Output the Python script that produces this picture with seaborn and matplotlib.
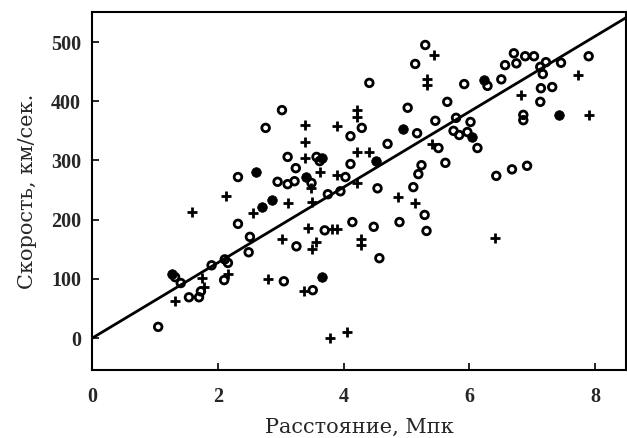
import matplotlib
matplotlib.use("Agg")
import matplotlib.pyplot as plt
import seaborn as sns
import numpy as np
import pandas as pd

# ---- data (distance, Mpc ; velocity, km/s) ----
open_x = [1.05, 1.32, 1.41, 1.54, 1.70, 1.73, 1.90, 2.10, 2.11, 2.16, 2.49, 2.51, 2.32, 2.32,
          2.76, 3.02, 2.95, 3.11, 3.22, 3.49, 3.11, 3.24, 3.57, 3.62, 4.11, 4.29, 4.11, 4.03,
          4.41, 5.30, 5.14, 5.02, 5.65, 5.46, 5.17, 4.70, 5.51, 5.62, 5.24, 5.19, 5.11, 4.54,
          3.75, 3.95, 5.29, 5.32, 4.89, 4.48, 4.14, 3.70, 3.25, 4.57, 3.05, 3.51, 6.43, 6.68,
          6.92, 6.71, 6.89, 7.03, 6.57, 6.75, 7.90, 7.13, 7.22, 7.46, 7.17, 5.92, 6.29, 6.51,
          7.14, 7.32, 7.13, 6.86, 6.86, 5.79, 6.02, 5.84, 5.97, 6.13, 5.75]
open_y = [19, 103, 93, 69, 69, 79, 123, 98, 133, 127, 145, 171, 193, 272,
          355, 385, 264, 260, 265, 262, 306, 287, 306, 299, 341, 355, 294, 272,
          431, 495, 463, 389, 399, 367, 346, 328, 321, 296, 292, 277, 255, 253,
          243, 248, 208, 181, 196, 188, 196, 182, 155, 135, 96, 81, 274, 285,
          291, 481, 476, 476, 461, 464, 476, 458, 466, 465, 446, 429, 426, 437,
          422, 424, 399, 377, 368, 372, 365, 343, 348, 321, 350]

filled_x = [1.27, 2.60, 2.70, 2.86, 3.41, 3.65, 4.95, 4.51, 3.65, 6.24, 7.43, 6.05]
filled_y = [108, 280, 221, 233, 272, 304, 353, 299, 103, 436, 377, 340]

plus_x = [1.32, 1.78, 1.75, 2.16, 2.56, 1.59, 2.13, 2.79, 5.44, 5.33, 5.33, 3.38, 3.90, 4.22,
          4.22, 3.38, 4.22, 4.41, 3.38, 3.62, 3.90, 4.22, 5.40, 3.48, 3.11, 3.49, 4.86, 5.13,
          3.43, 3.81, 3.90, 3.02, 3.56, 3.49, 4.27, 4.27, 3.37, 3.79, 4.05, 6.41, 7.73, 6.83,
          7.90]
plus_y = [62, 86, 101, 108, 211, 213, 240, 100, 478, 437, 427, 360, 358, 385,
          373, 331, 314, 314, 304, 280, 275, 262, 328, 253, 228, 230, 238, 228,
          186, 184, 184, 167, 162, 150, 167, 157, 79, 0, 10, 169, 444, 410,
          377]

fit_slope = 63.7   # km/s per Mpc (line through origin)
x_ticks = [0, 2, 4, 6, 8]
y_ticks = [0, 100, 200, 300, 400, 500]
x_label = "Расстояние, Мпк"
y_label = "Скорость, км/сек."

sns.set_theme(style="ticks")
plt.rcParams['font.family'] = ['Liberation Serif', 'DejaVu Serif']

fig = plt.figure(figsize=(6.27, 4.38), dpi=100)
ax = fig.add_axes([0.147, 0.155, 0.852, 0.818])

df_open = pd.DataFrame({"x": open_x, "y": open_y})
df_fill = pd.DataFrame({"x": filled_x, "y": filled_y})
df_plus = pd.DataFrame({"x": plus_x, "y": plus_y})

sns.scatterplot(data=df_open, x="x", y="y", ax=ax, marker="o", s=30,
                facecolors="none", edgecolors="black", linewidth=2.0, zorder=3)
sns.scatterplot(data=df_fill, x="x", y="y", ax=ax, marker="o", s=48,
                color="black", edgecolor="black", linewidth=0.5, zorder=3)
sns.scatterplot(data=df_plus, x="x", y="y", ax=ax, marker="+", s=62,
                color="black", linewidth=2.0, zorder=3)

xlim = (0, 8.5)
xl = np.array(xlim)
ax.plot(xl, fit_slope * xl, color="black", lw=2.0, zorder=2)

ax.set_xlim(*xlim)
ax.set_ylim(-54, 551)
ax.set_xticks(x_ticks)
ax.set_yticks(y_ticks)
ax.tick_params(direction="in", length=5, width=1.4, labelsize=14.5)
ax.tick_params(axis="y", pad=8)
ax.tick_params(axis="x", pad=12)
for lab in ax.get_xticklabels() + ax.get_yticklabels():
    lab.set_fontweight("bold")
for sp in ax.spines.values():
    sp.set_linewidth(1.5)
    sp.set_color("black")
ax.set_xlabel(x_label, fontsize=15, labelpad=8, family=['DejaVu Serif'])
ax.set_ylabel(y_label, fontsize=15, labelpad=10, family=['DejaVu Serif'])

fig.savefig("out.png", dpi=100)
